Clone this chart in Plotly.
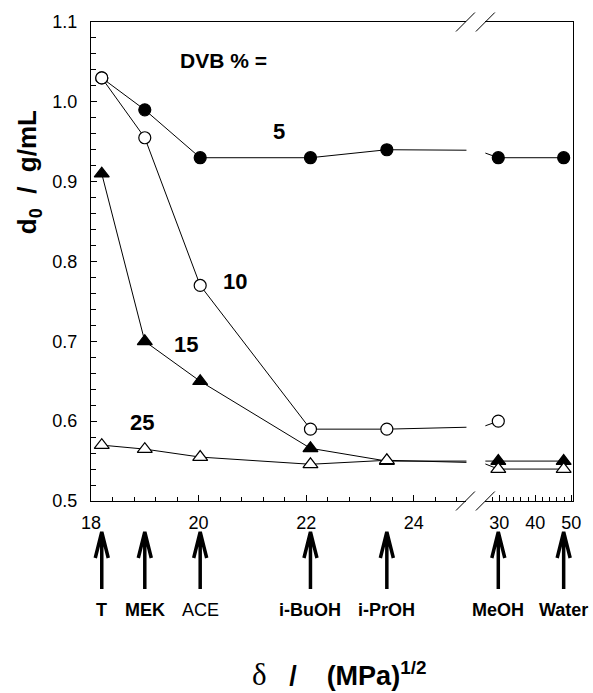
import plotly.graph_objects as go

# ---------------- data ----------------
solvents = ["T", "MEK", "ACE", "i-BuOH", "i-PrOH", "MeOH", "Water"]
solvent_bold = [True, True, False, True, True, True, True]
delta = [18.2, 19.0, 20.03, 22.08, 23.5, 29.7, 47.9]

dvb5 = [1.03, 0.99, 0.93, 0.93, 0.94, 0.93, 0.93]
dvb10 = [1.03, 0.955, 0.77, 0.59, 0.59, 0.60, None]
dvb15 = [0.91, 0.70, 0.65, 0.566, 0.55, 0.55, 0.55]
dvb25 = [0.57, 0.565, 0.555, 0.546, 0.551, 0.54, 0.54]

series = [
    ("5", dvb5, "circle", "black"),
    ("15", dvb15, "triangle-up", "black"),
    ("10", dvb10, "circle", "white"),
    ("25", dvb25, "triangle-up", "white"),
]
marker_size = {"circle": 12, "triangle-up": 13}

left_range = [18, 24.98]
right_range = [26.1, 50.5]
break_x = 25.0

FONT = "Liberation Sans, Arial, sans-serif"

fig = go.Figure()
for name, vals, sym, fill in series:
    for xa, ya in (("x", "y"), ("x2", "y2")):
        fig.add_trace(go.Scatter(
            x=delta, y=vals, xaxis=xa, yaxis=ya, mode="lines+markers",
            line=dict(color="black", width=1), connectgaps=False,
            marker=dict(symbol=sym, size=marker_size[sym], color=fill,
                        line=dict(color="black", width=1.2)),
            showlegend=False, hoverinfo="skip"))

# ---------------- layout geometry ----------------
L, R, T, B = 91, 18, 22, 192
W, H = 593, 693
pw = W - L - R
ph = H - T - B
gap_l_px, gap_r_px = 468, 487
dom1 = [0, (gap_l_px - L) / pw]
dom2 = [(gap_r_px - L) / pw, 1]

axis_common = dict(showgrid=False, zeroline=False, showline=True, linecolor="black",
                   linewidth=1, ticks="inside", tickcolor="black",
                   tickfont=dict(family=FONT, size=18, color="black"))

fig.update_layout(
    width=W, height=H, margin=dict(l=L, r=R, t=T, b=B),
    paper_bgcolor="white", plot_bgcolor="white",
    xaxis=dict(domain=dom1, range=left_range, anchor="y", mirror=True,
               tick0=18, dtick=2, ticklen=6, ticklabelstandoff=5,
               minor=dict(dtick=0.4, tick0=18, ticks="inside", ticklen=4, tickcolor="black"),
               **axis_common),
    xaxis2=dict(domain=dom2, range=right_range, anchor="y2", mirror=True,
                tickvals=[30, 40, 50], ticklen=6, ticklabelstandoff=5,
                minor=dict(dtick=2, tick0=26, ticks="inside", ticklen=4, tickcolor="black"),
                **axis_common),
    yaxis=dict(range=[0.5, 1.1], anchor="x", dtick=0.1, tick0=0.5, tickformat=".1f",
               ticklen=6, ticklabelstandoff=9,
               minor=dict(dtick=0.02, ticks="inside", ticklen=5, tickcolor="black"),
               **axis_common),
    yaxis2=dict(range=[0.5, 1.1], anchor="x2", matches="y", side="right",
                showticklabels=False, showgrid=False, zeroline=False, showline=True,
                linecolor="black", linewidth=1, ticks=""),
)

# axis break marks
for xc_px in (gap_l_px - 1, gap_r_px):
    for yc in (0, 1):
        xc = (xc_px - L) / pw
        fig.add_shape(type="line", xref="paper", yref="paper",
                      x0=xc - 9.5 / pw, x1=xc + 9.5 / pw,
                      y0=yc - 9.5 / ph, y1=yc + 9.5 / ph,
                      line=dict(color="black", width=1))

# arrows + solvent labels
arrow_top_px = 532
for s, bold, d in zip(solvents, solvent_bold, delta):
    xr = "x" if d < break_x else "x2"
    fig.add_shape(type="path", xref=xr, yref="paper", xsizemode="pixel", ysizemode="pixel",
                  xanchor=d, yanchor=(T + ph - arrow_top_px) / ph,
                  path="M -6.5,-26 L 0,0 L 6.5,-26 M 0,-3 L 0,-57",
                  line=dict(color="black", width=3.5))
    fig.add_annotation(x=d, xref=xr, y=(T + ph - 610) / ph, yref="paper",
                       text=f"<b>{s}</b>" if bold else s, showarrow=False,
                       xanchor="center", yanchor="middle",
                       font=dict(family=FONT, size=18, color="black"))

# in-plot labels
labels = [("<b>DVB % =</b>", 20.46, 1.052, 21), ("<b>5</b>", 21.5, 0.963, 22),
          ("<b>10</b>", 20.67, 0.775, 22), ("<b>15</b>", 19.76, 0.696, 22),
          ("<b>25</b>", 18.94, 0.598, 22)]
for txt, x, y, fs in labels:
    fig.add_annotation(x=x, y=y, xref="x", yref="y", text=txt, showarrow=False,
                       xanchor="center", yanchor="middle",
                       font=dict(family=FONT, size=fs, color="black"))

# axis titles
fig.add_annotation(xref="paper", yref="paper", x=(28 - L) / pw, y=(T + ph - 172) / ph,
                   xanchor="center", yanchor="middle",
                   text="<b>d<sub>0</sub>\u00a0\u00a0/\u00a0\u00a0g/mL</b>", textangle=-90,
                   showarrow=False, font=dict(family=FONT, size=26, color="black"))
fig.add_annotation(xref="paper", yref="paper", x=(340 - L) / pw, y=(T + ph - 674) / ph,
                   xanchor="center", yanchor="middle",
                   text="<span style=\"font-family:'Liberation Serif';font-size:31px\">δ</span>"
                        "\u00a0\u00a0\u00a0<b>/\u00a0\u00a0\u00a0\u00a0(MPa)<sup>1/2</sup></b>",
                   showarrow=False, font=dict(family=FONT, size=27, color="black"))

fig.write_html("out.html", post_script="document.body.style.margin='0';",
               config={"displayModeBar": False})
